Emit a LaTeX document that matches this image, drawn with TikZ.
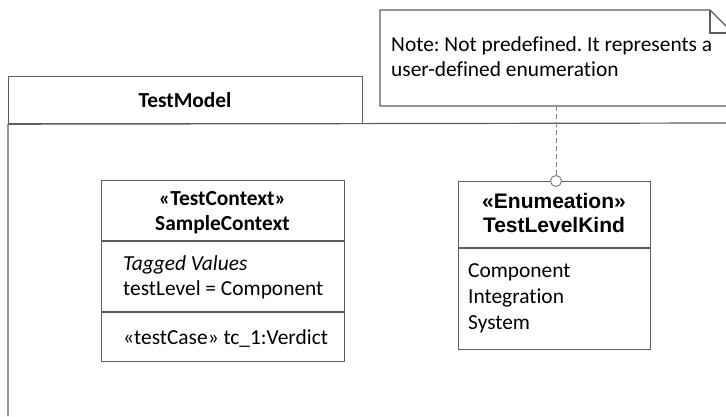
\documentclass[tikz,border=0pt]{standalone}
\usepackage{fontspec}
\setmainfont{Carlito}[Ligatures={NoCommon}]
\newfontfamily\arialfont{Liberation Sans}
\definecolor{linegray}{HTML}{5E5E5E}
\definecolor{dashgray}{HTML}{808080}
\frenchspacing
\begin{document}
\begin{tikzpicture}[x=1pt,y=-1pt,
  ln/.style={draw=linegray, line width=1.2pt},
  boxst/.style={ln, fill=white, inner sep=0, anchor=north west},
  txt/.style={inner sep=0, anchor=base west, font=\fontsize{21.4}{25}\selectfont},
  hdr/.style={inner sep=0, anchor=base, font=\fontsize{21.4}{25}\selectfont\bfseries},
  ahdr/.style={inner sep=0, anchor=base, font=\fontsize{21}{25}\selectfont\arialfont\bfseries},
  link/.style={draw=dashgray, line width=1pt, dash pattern=on 5pt off 3pt}]
\useasboundingbox (0,0) rectangle (726,416);
\clip (0,0) rectangle (726,416);
% package
\node[boxst, minimum width=354pt, minimum height=47pt] (pkgtab) at (8,76) {};
\node[hdr] (pkgname) at (185,107) {TestModel};
\draw[ln] (8,416) -- (pkgtab.south west) -- (726,123);
% note
\draw[ln, fill=white] (380,10) -- (710,10) -- (733,33) -- (733,106) -- (380,106) -- cycle;
\draw[ln] (710,10) -- (710,33) -- (733,33);
\coordinate (noteb) at (556,106);
\node[txt] (note1) at (391,51) {Note: Not predefined. It represents a};
\node[txt] (note2) at (391,76) {user-defined enumeration};
% SampleContext class
\node[boxst, minimum width=243pt, minimum height=181pt] (ctx) at (101,180) {};
\draw[ln] (101,241) -- (344,241);
\draw[ln] (101,312) -- (344,312);
\node[hdr] (ctxst) at (222.5,205) {«TestContext»};
\node[hdr] (ctxname) at (222.5,230) {SampleContext};
\node[txt, font=\fontsize{21.4}{25}\selectfont\itshape] (tagged) at (123,270) {Tagged Values};
\node[txt] (tlevel) at (123,295) {testLevel = Component};
\node[txt] (tcase) at (123,344) {«testCase» tc\_1:Verdict};
% Enumeration class
\node[boxst, minimum width=192pt, minimum height=168pt] (enum) at (458,181) {};
\draw[ln] (458,248) -- (650,248);
\node[ahdr] (enst) at (554,208) {«Enumeation»};
\node[ahdr] (enname) at (554,232) {TestLevelKind};
\node[txt] (lit1) at (468,277) {Component};
\node[txt] (lit2) at (468,303) {Integration};
\node[txt] (lit3) at (468,329) {System};
% anchor link
\node[draw=dashgray, line width=1pt, fill=white, circle, inner sep=0, minimum size=11pt] (anch) at (556,181) {};
\draw[link] (noteb) -- (anch.north);
\end{tikzpicture}
\end{document}
